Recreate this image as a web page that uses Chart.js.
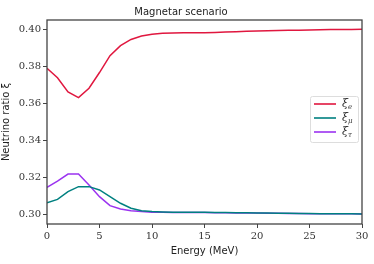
<!DOCTYPE html>
<html>
<head>
<meta charset="utf-8">
<script src="https://cdn.jsdelivr.net/npm/chart.js@4/dist/chart.umd.min.js"></script>
<style>
  html, body { margin: 0; padding: 0; background: #fff; }
  #wrap { width: 374px; height: 264px; }
</style>
</head>
<body>
<div id="wrap"><canvas id="grafico" width="374" height="264"></canvas></div>
<script>
const energia = [0,1,2,3,4,5,6,7,8,9,10,11,12,13,14,15,16,17,18,19,20,21,22,23,24,25,26,27,28,29,30];
const xiE   = [0.3788,0.3737,0.3660,0.3629,0.3680,0.3765,0.3856,0.3910,0.3944,0.3962,0.3972,0.3977,0.3979,0.3980,0.3980,0.3980,0.3982,0.3984,0.3986,0.3988,0.3990,0.3991,0.3992,0.3993,0.3994,0.3995,0.3996,0.3997,0.3998,0.3998,0.3999];
const xiMu  = [0.3061,0.3079,0.3121,0.3148,0.3148,0.3130,0.3094,0.3058,0.3031,0.3018,0.3013,0.3011,0.3010,0.3010,0.3009,0.3009,0.3008,0.3008,0.3007,0.3007,0.3006,0.3005,0.3004,0.3004,0.3003,0.3003,0.3002,0.3002,0.3001,0.3001,0.3000];
const xiTau = [0.3144,0.3178,0.3216,0.3216,0.3157,0.3094,0.3045,0.3027,0.3018,0.3013,0.3010,0.3009,0.3008,0.3008,0.3008,0.3008,0.3007,0.3007,0.3006,0.3006,0.3005,0.3004,0.3004,0.3003,0.3003,0.3002,0.3002,0.3001,0.3001,0.3001,0.3000];
const xTicks = [0,5,10,15,20,25,30];
const yTicks = [0.30,0.32,0.34,0.36,0.38,0.40];
const subindices = ["e", "μ", "τ"];
const colores = ["#e0173f", "#008080", "#9b33f0"];

const serif = "'DejaVu Serif', 'Liberation Serif', serif";
const sans = "'DejaVu Sans', sans-serif";
const ejeColor = "#444";

// caja alrededor del área y leyenda con subíndices
const marcoYLeyenda = {
  id: "marcoYLeyenda",
  afterDraw(chart) {
    const { ctx, chartArea: a } = chart;
    ctx.save();
    ctx.strokeStyle = ejeColor;
    ctx.lineWidth = 1.3;
    ctx.strokeRect(a.left, a.top, a.right - a.left, a.bottom - a.top);

    const bx = 310, by = 96, bw = 48, bh = 46;
    ctx.fillStyle = "rgba(255,255,255,0.85)";
    ctx.strokeStyle = "#ddd";
    ctx.lineWidth = 1;
    ctx.beginPath();
    ctx.roundRect(bx + 0.5, by + 0.5, bw, bh, 2);
    ctx.fill();
    ctx.stroke();

    chart.data.datasets.forEach((ds, i) => {
      const y = by + 8 + i * 14;
      ctx.strokeStyle = ds.borderColor;
      ctx.lineWidth = 1.6;
      ctx.beginPath();
      ctx.moveTo(bx + 4, y);
      ctx.lineTo(bx + 26, y);
      ctx.stroke();
      ctx.fillStyle = "#333";
      ctx.textBaseline = "middle";
      ctx.font = "italic 11px " + serif;
      ctx.fillText("ξ", bx + 32, y);
      ctx.font = "italic 7px " + serif;
      ctx.fillText(subindices[i], bx + 38, y + 3);
    });
    ctx.restore();
  }
};

const ctx = document.getElementById("grafico").getContext("2d");
new Chart(ctx, {
  type: "line",
  data: {
    datasets: [xiE, xiMu, xiTau].map((serie, i) => ({
      label: "ξ" + subindices[i],
      data: serie.map((v, j) => ({ x: energia[j], y: v })),
      borderColor: colores[i],
      backgroundColor: colores[i],
      borderWidth: 1.5,
      pointRadius: 0,
      tension: 0
    }))
  },
  options: {
    responsive: false,
    animation: false,
    layout: { padding: { right: 12, left: 0, top: 0, bottom: 7 } },
    plugins: {
      legend: { display: false },
      tooltip: { enabled: false },
      title: {
        display: true,
        text: "Magnetar scenario",
        color: "#222",
        font: { family: sans, size: 10, weight: "normal" },
        padding: { top: 6, bottom: 2 }
      }
    },
    scales: {
      x: {
        type: "linear",
        min: 0, max: 30,
        afterBuildTicks: s => { s.ticks = xTicks.map(v => ({ value: v })); },
        afterFit: s => { s.height = 33; },
        grid: { display: true, drawOnChartArea: false, drawTicks: true, tickLength: 4, color: ejeColor },
        border: { display: false },
        ticks: { color: "#333", font: { family: serif, size: 10 }, padding: 2, maxRotation: 0 },
        title: { display: true, text: "Energy (MeV)", color: "#222", font: { family: sans, size: 10 }, padding: { top: 0, bottom: 0 } }
      },
      y: {
        min: 0.2946, max: 0.4049,
        afterBuildTicks: s => { s.ticks = yTicks.map(v => ({ value: v })); },
        afterFit: s => { s.width = 47; },
        grid: { display: true, drawOnChartArea: false, drawTicks: true, tickLength: 4, color: ejeColor },
        border: { display: false },
        ticks: { color: "#333", font: { family: serif, size: 10 }, padding: 2, callback: v => v.toFixed(2) },
        title: { display: true, text: "Neutrino ratio ξ", color: "#222", font: { family: sans, size: 10 }, padding: { top: 0, bottom: 2 } }
      }
    }
  },
  plugins: [marcoYLeyenda]
});
</script>
</body>
</html>
